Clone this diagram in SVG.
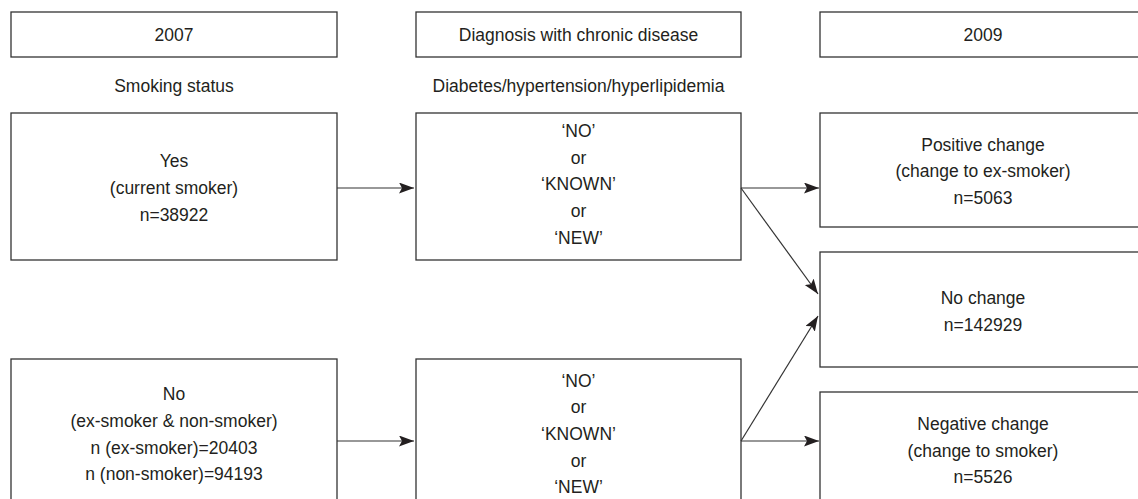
<svg xmlns="http://www.w3.org/2000/svg" width="1138" height="499" viewBox="0 0 1138 499">
<defs>
<style>
.box{fill:#fff;stroke:#333;stroke-width:1.3}
.t{font-family:"Liberation Sans",Arial,sans-serif;font-size:17.5px;fill:#231f20;text-anchor:middle}
.c{stroke:#333;stroke-width:1.2;fill:none;marker-end:url(#ah)}
</style>
<marker id="ah" markerUnits="userSpaceOnUse" markerWidth="18" markerHeight="12" refX="15" refY="5.5" orient="auto">
<path d="M0,0 L15,5.5 L0,11 L3,5.5 Z" fill="#231f20"/>
</marker>
</defs>
<rect width="1138" height="499" fill="#fff"/>

<g id="h2007"><rect class="box" x="11" y="12" width="326" height="45"/><text class="t" x="174" y="41">2007</text></g>
<g id="hdiag"><rect class="box" x="416" y="12" width="325" height="45"/><text class="t" x="578.5" y="41">Diagnosis with chronic disease</text></g>
<g id="h2009"><rect class="box" x="820" y="12" width="330" height="45"/><text class="t" x="983" y="41">2009</text></g>

<g id="sub1"><text class="t" x="174" y="92">Smoking status</text></g>
<g id="sub2"><text class="t" x="578.5" y="92">Diabetes/hypertension/hyperlipidemia</text></g>

<g id="yes"><rect class="box" x="11" y="113" width="326" height="147"/>
<text class="t" x="174" y="167">Yes</text>
<text class="t" x="174" y="194">(current smoker)</text>
<text class="t" x="174" y="221">n=38922</text></g>

<g id="no"><rect class="box" x="11" y="359" width="326" height="150"/>
<text class="t" x="174" y="400">No</text>
<text class="t" x="174" y="427">(ex-smoker &amp; non-smoker)</text>
<text class="t" x="174" y="453.5">n (ex-smoker)=20403</text>
<text class="t" x="174" y="480">n (non-smoker)=94193</text></g>

<g id="diag1"><rect class="box" x="416" y="113" width="325" height="147"/>
<text class="t" x="578.5" y="137">‘NO’</text>
<text class="t" x="578.5" y="163.7">or</text>
<text class="t" x="578.5" y="190.3">‘KNOWN’</text>
<text class="t" x="578.5" y="217">or</text>
<text class="t" x="578.5" y="243.7">‘NEW’</text></g>

<g id="diag2"><rect class="box" x="416" y="359" width="325" height="150"/>
<text class="t" x="578.5" y="386.7">‘NO’</text>
<text class="t" x="578.5" y="413.3">or</text>
<text class="t" x="578.5" y="440">‘KNOWN’</text>
<text class="t" x="578.5" y="466.7">or</text>
<text class="t" x="578.5" y="493.3">‘NEW’</text></g>

<g id="pos"><rect class="box" x="820" y="113" width="330" height="114"/>
<text class="t" x="983" y="150.5">Positive change</text>
<text class="t" x="983" y="177">(change to ex-smoker)</text>
<text class="t" x="983" y="203.5">n=5063</text></g>

<g id="nochange"><rect class="box" x="820" y="252" width="330" height="115"/>
<text class="t" x="983" y="304">No change</text>
<text class="t" x="983" y="330.5">n=142929</text></g>

<g id="neg"><rect class="box" x="820" y="392" width="330" height="120"/>
<text class="t" x="983" y="430">Negative change</text>
<text class="t" x="983" y="456.5">(change to smoker)</text>
<text class="t" x="983" y="483">n=5526</text></g>

<g id="connectors">
<path class="c" d="M337,188 L414,188"/>
<path class="c" d="M337,441 L414,441"/>
<path class="c" d="M741,188 L819,188"/>
<path class="c" d="M741,188 L818,294"/>
<path class="c" d="M741,441 L819,441"/>
<path class="c" d="M741,441 L818,316"/>
</g>
</svg>
